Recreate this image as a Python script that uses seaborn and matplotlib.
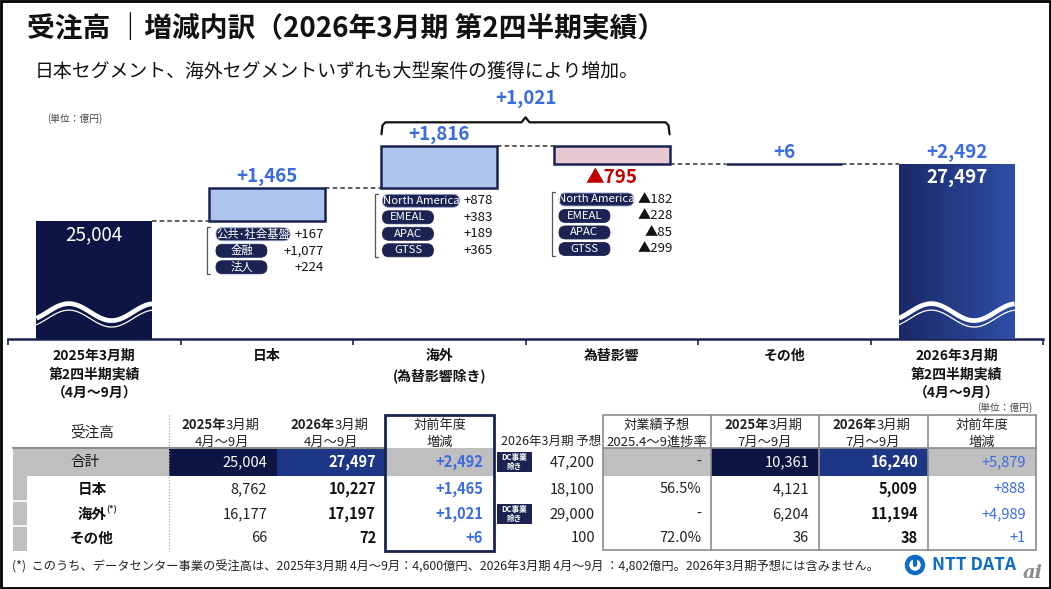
import numpy as np
import pandas as pd
import matplotlib.pyplot as plt
import matplotlib.transforms as mtransforms
from matplotlib.patches import Rectangle, FancyBboxPatch, Circle
from matplotlib.colors import LinearSegmentedColormap
import seaborn as sns

sns.set_theme(style="white")
plt.rcParams['font.family'] = ['Noto Sans CJK JP', 'DejaVu Sans']

W, H = 1051, 589  # slide size in px (dpi 100)

# ---- waterfall data (億円) ----
steps = ["2025年3月期\n第2四半期実績\n（4月～9月）", "日本", "海外\n(為替影響除き)",
         "為替影響", "その他", "2026年3月期\n第2四半期実績\n（4月～9月）"]
start_total = 25004
deltas = [1465, 1816, -795, 6]
end_total = 27497
delta_labels = ["+1,465", "+1,816", "▲795", "+6"]
overseas_label = "+1,021"
growth_label = "+2,492"

jp_names = ["公共･社会基盤", "金融", "法人"]
jp_vals = ["+167", "+1,077", "+224"]
os_names = ["North America", "EMEAL", "APAC", "GTSS"]
os_vals = ["+878", "+383", "+189", "+365"]
fx_vals = ["▲182", "▲228", "▲85", "▲299"]

# ---- table data ----
tbl_rows = ["合計", "日本", "海外", "その他"]
h1_prev = [25004, 8762, 16177, 66]
h1_cur = [27497, 10227, 17197, 72]
h1_diff = [2492, 1465, 1021, 6]
fy_plan = [47200, 18100, 29000, 100]
progress = ["-", "56.5%", "-", "72.0%"]
q2_prev = [10361, 4121, 6204, 36]
q2_cur = [16240, 5009, 11194, 38]
q2_diff = [5879, 888, 4989, 1]

NAVY = "#0C1543"
DEEP = "#1D3686"
EDGE = "#1A2352"
LBLUE = "#AFC4EE"
PINK = "#E8C9D1"
TXT_BLUE = "#3A6BDF"
RED = "#C00000"
PILL = "#1B2352"
GRAY = "#BFBFBF"

fig = plt.figure(figsize=(W / 100, H / 100), dpi=100)
ax = fig.add_axes([8 / W, (H - 339) / H, 1035 / W, 249 / H])
ov = fig.add_axes([0, 0, 1, 1])
ov.set_xlim(0, W)
ov.set_ylim(H, 0)
ov.axis("off")

# ---------------- waterfall ----------------
floor = 19850  # broken axis starts here
bw = 0.67
levels = start_total + np.cumsum(deltas)
prev = np.concatenate([[start_total], levels[:-1]])
wf = pd.DataFrame({
    "step": steps,
    "bottom": [floor, *prev, floor],
    "height": [start_total - floor, *deltas, end_total - floor],
})
x = np.arange(len(wf))
face = [NAVY, LBLUE, LBLUE, PINK, EDGE, DEEP]
edges = ["none", EDGE, EDGE, EDGE, EDGE, "none"]
bars = ax.bar(x, wf["height"], bottom=wf["bottom"], width=bw, color=face,
              edgecolor=edges, linewidth=1.8, zorder=3)

# gradient on the final bar
b = bars[-1]
cmap = LinearSegmentedColormap.from_list("g", ["#1A2967", "#2F4EA6"])
im = ax.imshow(np.linspace(0, 1, 256).reshape(1, -1), cmap=cmap, aspect="auto",
               extent=[b.get_x(), b.get_x() + b.get_width(), b.get_y(), b.get_y() + b.get_height()],
               zorder=3.5)
im.set_clip_path(b)

ax.set_xlim(-0.5, 5.5)
ax.set_ylim(floor, 30750)

# wave break marks
trans = mtransforms.blended_transform_factory(ax.transData, ax.transAxes)
t = np.linspace(0, 1, 120)
for i in (0, 5):
    xs = i - bw / 2 + t * bw
    yc = 0.108 + 0.034 * np.cos(2 * np.pi * (t - 0.28) / 0.74)
    ax.plot(xs, yc, color="white", lw=3.4, transform=trans, zorder=4, solid_capstyle="butt")
    ax.plot(xs, yc - 0.026, color="white", lw=0.9, transform=trans, zorder=4)

# dashed connectors
for i, lv in enumerate([start_total, *levels]):
    ax.plot([i + bw / 2, i + 1 - bw / 2], [lv, lv], color="#333333", lw=1.1,
            ls=(0, (3, 2)), zorder=2)

pt = 0.72  # points per px
for i, (d, lab) in enumerate(zip(deltas, delta_labels), start=1):
    if d >= 0:
        ax.annotate(lab, (i, prev[i - 1] + d), xytext=(0, 11.5 * pt), textcoords="offset points",
                    ha="center", va="center", color=TXT_BLUE, fontsize=13.5, fontweight="bold")
    else:
        ax.annotate(lab, (i, prev[i - 1] + d), xytext=(0, -13 * pt), textcoords="offset points",
                    ha="center", va="center", color=RED, fontsize=13.5, fontweight="bold")
ax.annotate(f"{start_total:,}", (0, start_total), xytext=(0, -14 * pt), textcoords="offset points",
            ha="center", va="center", color="white", fontsize=13.5)
ax.annotate(f"{end_total:,}", (5, end_total), xytext=(0, -13 * pt), textcoords="offset points",
            ha="center", va="center", color="white", fontsize=13.5, fontweight="bold", zorder=6)
ax.annotate(growth_label, (5, end_total), xytext=(0, 12 * pt), textcoords="offset points",
            ha="center", va="center", color=TXT_BLUE, fontsize=13.5, fontweight="bold")

ax.set_xticks(x, wf["step"], fontsize=10, fontweight="bold", color="#111111", linespacing=1.45)
ax.set_xticks(np.arange(-0.5, 6, 1), minor=True)
ax.tick_params(axis="x", which="major", length=0, pad=7)
ax.tick_params(axis="x", which="minor", bottom=True, length=4, width=1.2, color=EDGE, direction="out")
ax.set_yticks([])
sns.despine(ax=ax, left=True)
ax.spines["bottom"].set_color(EDGE)
ax.spines["bottom"].set_linewidth(1.8)


def to_px(xd, yd):
    X, Y = ax.transData.transform((xd, yd))
    return X, H - Y


# bracket over overseas + fx
L, top = to_px(2 - bw / 2, levels[1])
R, _ = to_px(3 + bw / 2, levels[1])
C = (L + R) / 2
yb = top - 24
ov.plot([L, L + 1, L + 4, C - 4, C, C + 4, R - 4, R - 1, R],
        [top - 12, yb + 3, yb, yb, yb - 5, yb, yb, yb + 3, top - 12], color="#111111", lw=1.6)
ov.text(C, top - 48, overseas_label, ha="center", va="center", color=TXT_BLUE,
        fontsize=13.5, fontweight="bold")


def breakdown(i, base, names, vals, pill_dx, row0, bracket_dx, val_dx, first_w):
    L, B = to_px(i - bw / 2, base)
    R, _ = to_px(i + bw / 2, base)
    rows = B + row0 + 16.5 * np.arange(len(names))
    bx = L + bracket_dx
    ov.plot([bx + 3, bx, bx, bx + 3], [rows[0] - 7, rows[0] - 7, rows[-1] + 7, rows[-1] + 7],
            color="#555555", lw=0.9)
    for k, (nm, v, y) in enumerate(zip(names, vals, rows)):
        w = first_w if k == 0 else 51
        ov.add_patch(FancyBboxPatch((L + pill_dx, y - 6.5), w, 13,
                                    boxstyle="round,pad=0,rounding_size=6.5", fc=PILL,
                                    ec="#9AA6CF" if k == 0 else PILL, lw=0.6))
        ov.text(L + pill_dx + w / 2, y, nm, ha="center", va="center", color="white", fontsize=8.2)
        ov.text(R + val_dx, y, v, ha="right", va="center", color="#111111", fontsize=9.5)


breakdown(1, prev[0], jp_names, jp_vals, 7, 13, -2, -1, 74)
breakdown(2, prev[1], os_names, os_vals, 1, 13, -6, -4, 77)
breakdown(3, levels[2], os_names, fx_vals, 5, 35, -2, 3, 75)

# ---------------- header texts ----------------
ov.text(27, 29, "受注高 ｜増減内訳（2026年3月期 第2四半期実績）", fontsize=20,
        fontweight="bold", va="center", color="#111111")
ov.text(35, 71, "日本セグメント、海外セグメントいずれも大型案件の獲得により増加。",
        fontsize=13.6, va="center", color="#111111")
ov.text(47, 119, "(単位：億円)", fontsize=7, va="center", color="#444444")
ov.text(1032, 408, "(単位：億円)", fontsize=7, va="center", ha="right", color="#444444")

# ---------------- table ----------------
row_y = [462, 489, 514, 538]
ov.add_patch(Rectangle((13, 448), 481, 28, fc=GRAY, ec="none"))
ov.add_patch(Rectangle((603, 448), 433, 28, fc=GRAY, ec="none"))
ov.add_patch(Rectangle((169, 448), 108, 28, fc=NAVY, ec="none"))
ov.add_patch(Rectangle((277, 448), 108, 28, fc=DEEP, ec="none"))
ov.add_patch(Rectangle((711, 448), 108, 28, fc=NAVY, ec="none"))
ov.add_patch(Rectangle((819, 448), 109, 28, fc=DEEP, ec="none"))
ov.add_patch(Rectangle((13, 476), 14, 75, fc=GRAY, ec="none"))
for yy in (501, 526):
    ov.plot([13, 27], [yy, yy], color="white", lw=1.2)
ov.plot([13, 385], [448, 448], color="#8C8C8C", lw=1.5)
ov.plot([169, 169], [415, 551], color="#999999", lw=0.8, ls=":")
ov.add_patch(Rectangle((385, 415), 109, 136, fc="none", ec=EDGE, lw=2, zorder=5))
ov.add_patch(Rectangle((603, 415), 433, 135, fc="none", ec="#8C8C8C", lw=1.2, zorder=5))
for xx in (711, 819, 928):
    ov.plot([xx, xx], [415, 550], color="#8C8C8C", lw=1.2)
ov.plot([603, 1036], [448, 448], color="#8C8C8C", lw=1.2)


def period_header(cx, year, months):
    ov.text(cx + 4, 425, year, ha="right", va="center",
            fontsize=9.5, fontweight="bold", color="#222222")
    ov.text(cx + 4, 425, "3月期", ha="left", va="center", fontsize=9.5, color="#222222")
    ov.text(cx, 442, months, ha="center", va="center", fontsize=9.5, color="#222222")


ov.text(92, 432, "受注高", ha="center", va="center", fontsize=10.5, color="#222222")
period_header(222, "2025年", "4月～9月")
period_header(331, "2026年", "4月～9月")
ov.text(440, 425, "対前年度", ha="center", va="center", fontsize=9.5, color="#222222")
ov.text(440, 442, "増減", ha="center", va="center", fontsize=9.5, color="#222222")
ov.text(601, 441, "2026年3月期 予想", ha="right", va="center", fontsize=9, color="#222222")
ov.text(657, 425, "対業績予想", ha="center", va="center", fontsize=9.5, color="#222222")
ov.text(657, 442, "2025.4～9進捗率", ha="center", va="center", fontsize=9.5, color="#222222")
period_header(765, "2025年", "7月～9月")
period_header(873, "2026年", "7月～9月")
ov.text(982, 425, "対前年度", ha="center", va="center", fontsize=9.5, color="#222222")
ov.text(982, 442, "増減", ha="center", va="center", fontsize=9.5, color="#222222")

for r, y in enumerate(row_y):
    first = r == 0
    ov.text(85 if first else 92, y, tbl_rows[r], ha="center", va="center", fontsize=10.5,
            fontweight="normal" if first else "bold", color="#111111")
    ov.text(267, y, f"{h1_prev[r]:,}", ha="right", va="center", fontsize=10.5,
            color="white" if first else "#222222")
    ov.text(376, y, f"{h1_cur[r]:,}", ha="right", va="center", fontsize=10.5, fontweight="bold",
            color="white" if first else "#111111")
    ov.text(483, y, f"+{h1_diff[r]:,}", ha="right", va="center", fontsize=10.5,
            fontweight="bold", color=TXT_BLUE)
    ov.text(595, y, f"{fy_plan[r]:,}", ha="right", va="center", fontsize=10.5, color="#222222")
    ov.text(701, y, progress[r], ha="right", va="center", fontsize=10.5, color="#222222")
    ov.text(809, y, f"{q2_prev[r]:,}", ha="right", va="center", fontsize=10.5,
            color="white" if first else "#222222")
    ov.text(918, y, f"{q2_cur[r]:,}", ha="right", va="center", fontsize=10.5, fontweight="bold",
            color="white" if first else "#111111")
    ov.text(1026, y, f"+{q2_diff[r]:,}", ha="right", va="center", fontsize=10.5, color=TXT_BLUE)
ov.text(106, row_y[2] - 4, "(*)", ha="left", va="center", fontsize=6, fontweight="bold")

for y in (row_y[0], row_y[2]):
    ov.add_patch(Rectangle((497, y - 10), 35, 20, fc=PILL, ec="none"))
    ov.text(514.5, y, "DC事業\n除き", ha="center", va="center", fontsize=5.5,
            fontweight="bold", color="white", linespacing=0.95)

ov.text(12, 567, "(*)  このうち、データセンター事業の受注高は、2025年3月期 4月～9月：4,600億円、"
        "2026年3月期 4月～9月 ：4,802億円。2026年3月期予想には含みません。",
        va="center", fontsize=8.8, color="#222222")

# logo
ov.add_patch(Circle((915, 565), 8, fc="none", ec="#0F6CC4", lw=3.2))
ov.plot([915, 915], [558, 565], color="#0F6CC4", lw=3)
ov.text(932, 565, "NTT DATA", va="center", fontsize=12.5, fontweight="bold", color="#0F6CC4")
ov.text(1033, 573, "ai", va="center", ha="center", fontsize=14, style="italic",
        fontweight="bold", color="#8C8C8C", family="DejaVu Serif")

ov.add_patch(Rectangle((1, 1), W - 2, H - 2, fc="none", ec="black", lw=2))

fig.savefig("out.png", dpi=100)
